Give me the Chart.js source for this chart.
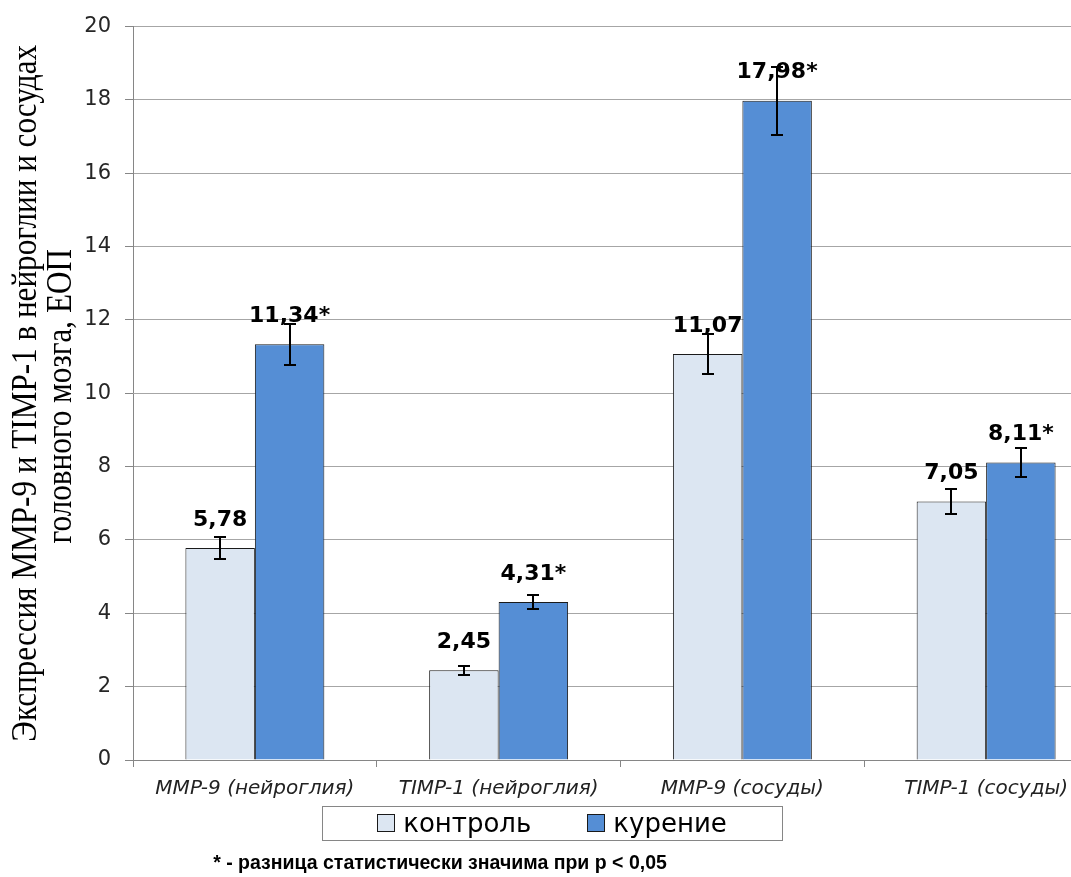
<!DOCTYPE html>
<html>
<head>
<meta charset="utf-8">
<script src="https://cdn.jsdelivr.net/npm/chart.js"></script>
<style>
  body { margin: 0; background: #fff; overflow: hidden; }
  #wrap { position: relative; width: 1112px; height: 877px; }
  #note {
    position: absolute; left: 440px; top: 850px; transform: translateX(-50%);
    font: bold 19.5px "Liberation Sans", sans-serif; line-height: 24px; color: #000; white-space: nowrap;
  }
</style>
</head>
<body>
<div id="wrap">
  <canvas id="chart" width="1112" height="877"></canvas>
  <div id="note">* - разница статистически значима при p &lt; 0,05</div>
</div>
<script>
// data
let categories = ["MMP-9 (нейроглия)", "TIMP-1 (нейроглия)", "MMP-9 (сосуды)", "TIMP-1 (сосуды)"];
let seriesNames = ["контроль", "курение"];
let control = [5.78, 2.45, 11.07, 7.05];
let smoking = [11.34, 4.31, 17.98, 8.11];
let controlErr = [0.29, 0.12, 0.55, 0.35];
let smokingErr = [0.56, 0.20, 0.93, 0.40];
let controlSig = [false, false, false, false];
let smokingSig = [true, true, true, true];
let yTicks = [0, 2, 4, 6, 8, 10, 12, 14, 16, 18, 20];
let yTitleLines = ["Экспрессия ММР-9 и TIMP-1 в нейроглии и сосудах", "головного мозга, ЕОП"];

function fmt(v) {
  return v.toFixed(2).replace(".", ",");
}

// value labels above bars
const valueLabels = {
  id: "valueLabels",
  afterDatasetsDraw(chart) {
    const ctx = chart.ctx;
    ctx.save();
    ctx.font = "bold 22px 'DejaVu Sans'";
    ctx.fillStyle = "#000";
    ctx.textAlign = "center";
    ctx.textBaseline = "middle";
    chart.data.datasets.forEach((ds, i) => {
      chart.getDatasetMeta(i).data.forEach((bar, j) => {
        let txt = fmt(ds.data[j]) + (ds.sig[j] ? "*" : "");
        ctx.fillText(txt, bar.x, bar.y - 28);
      });
    });
    ctx.restore();
  }
};

// error bars
const errorBars = {
  id: "errorBars",
  afterDatasetsDraw(chart) {
    const ctx = chart.ctx;
    const y = chart.scales.y;
    ctx.save();
    ctx.strokeStyle = "#000";
    ctx.lineWidth = 2;
    chart.data.datasets.forEach((ds, i) => {
      chart.getDatasetMeta(i).data.forEach((bar, j) => {
        let v = ds.data[j], e = ds.err[j];
        let top = Math.round(y.getPixelForValue(v + e));
        let bot = Math.round(y.getPixelForValue(v - e));
        let x = Math.round(bar.x);
        ctx.beginPath();
        ctx.moveTo(x, top); ctx.lineTo(x, bot);
        ctx.moveTo(x - 6, top); ctx.lineTo(x + 6, top);
        ctx.moveTo(x - 6, bot); ctx.lineTo(x + 6, bot);
        ctx.stroke();
      });
    });
    ctx.restore();
  }
};

// condensed serif axis title (two lines)
const yTitle = {
  id: "yTitle",
  afterDraw(chart) {
    const ctx = chart.ctx;
    const a = chart.chartArea;
    const cy = (a.top + a.bottom) / 2;
    ctx.save();
    ctx.font = "35px 'Liberation Serif'";
    ctx.fillStyle = "#000";
    ctx.textAlign = "center";
    ctx.textBaseline = "alphabetic";
    yTitleLines.forEach((line, k) => {
      ctx.save();
      ctx.translate(36 + k * 35, cy + k * 3);
      ctx.rotate(-Math.PI / 2);
      ctx.scale(0.89, 1);
      ctx.fillText(line, 0, 0);
      ctx.restore();
    });
    ctx.restore();
  }
};

// legend in a frame, like the original
const boxLegend = {
  id: "boxLegend",
  afterDraw(chart) {
    const ctx = chart.ctx;
    const cx = 552;
    ctx.save();
    ctx.font = "26px 'DejaVu Sans'";
    let items = chart.data.datasets.map(ds => ({
      label: ds.label, fill: ds.backgroundColor, w: ctx.measureText(ds.label).width
    }));
    let gap = 56;
    let total = items.reduce((s, it) => s + 26 + it.w, 0) + gap * (items.length - 1);
    let x = cx - total / 2;
    ctx.strokeStyle = "#868686";
    ctx.lineWidth = 1;
    ctx.strokeRect(Math.round(cx - total / 2 - 55) + 0.5, 806.5, Math.round(total + 110), 34);
    items.forEach(it => {
      ctx.fillStyle = it.fill;
      ctx.fillRect(Math.round(x), 814, 18, 18);
      ctx.strokeStyle = "#1a1a1a";
      ctx.strokeRect(Math.round(x) + 0.5, 814.5, 17, 17);
      x += 26;
      ctx.fillStyle = "#000";
      ctx.textBaseline = "alphabetic";
      ctx.fillText(it.label, x, 832);
      x += it.w + gap;
    });
    ctx.restore();
  }
};

const ctx = document.getElementById("chart").getContext("2d");
const myChart = new Chart(ctx, {
  type: "bar",
  data: {
    labels: categories,
    datasets: [
      {
        label: seriesNames[0],
        data: control,
        err: controlErr,
        sig: controlSig,
        backgroundColor: "#dce6f2",
        borderColor: "#1a1a1a",
        borderWidth: 1
      },
      {
        label: seriesNames[1],
        data: smoking,
        err: smokingErr,
        sig: smokingSig,
        backgroundColor: "#558ed5",
        borderColor: "#1a1a1a",
        borderWidth: 1
      }
    ]
  },
  options: {
    responsive: false,
    animation: false,
    layout: { padding: { left: 0, top: 25, right: 4, bottom: 72 } },
    datasets: { bar: { categoryPercentage: 0.57, barPercentage: 1.0 } },
    plugins: {
      legend: { display: false },
      tooltip: { enabled: false }
    },
    scales: {
      x: {
        grid: { offset: true, drawOnChartArea: false, tickLength: 7, color: "#868686" },
        border: { color: "#868686" },
        ticks: {
          color: "#222",
          font: { family: "DejaVu Sans", size: 20, style: "italic" },
          padding: 10,
          maxRotation: 0,
          autoSkip: false
        },
        afterFit(scale) { scale.height = 45; }
      },
      y: {
        min: 0,
        max: 20,
        afterBuildTicks(scale) { scale.ticks = yTicks.map(v => ({ value: v })); },
        grid: { color: "#a6a6a6", tickLength: 8, tickColor: "#868686" },
        border: { color: "#868686" },
        ticks: {
          color: "#262626",
          font: { family: "DejaVu Sans", size: 21 },
          padding: 14
        },
        afterFit(scale) { scale.width = 133; }
      }
    }
  },
  plugins: [valueLabels, errorBars, yTitle, boxLegend]
});
</script>
</body>
</html>
